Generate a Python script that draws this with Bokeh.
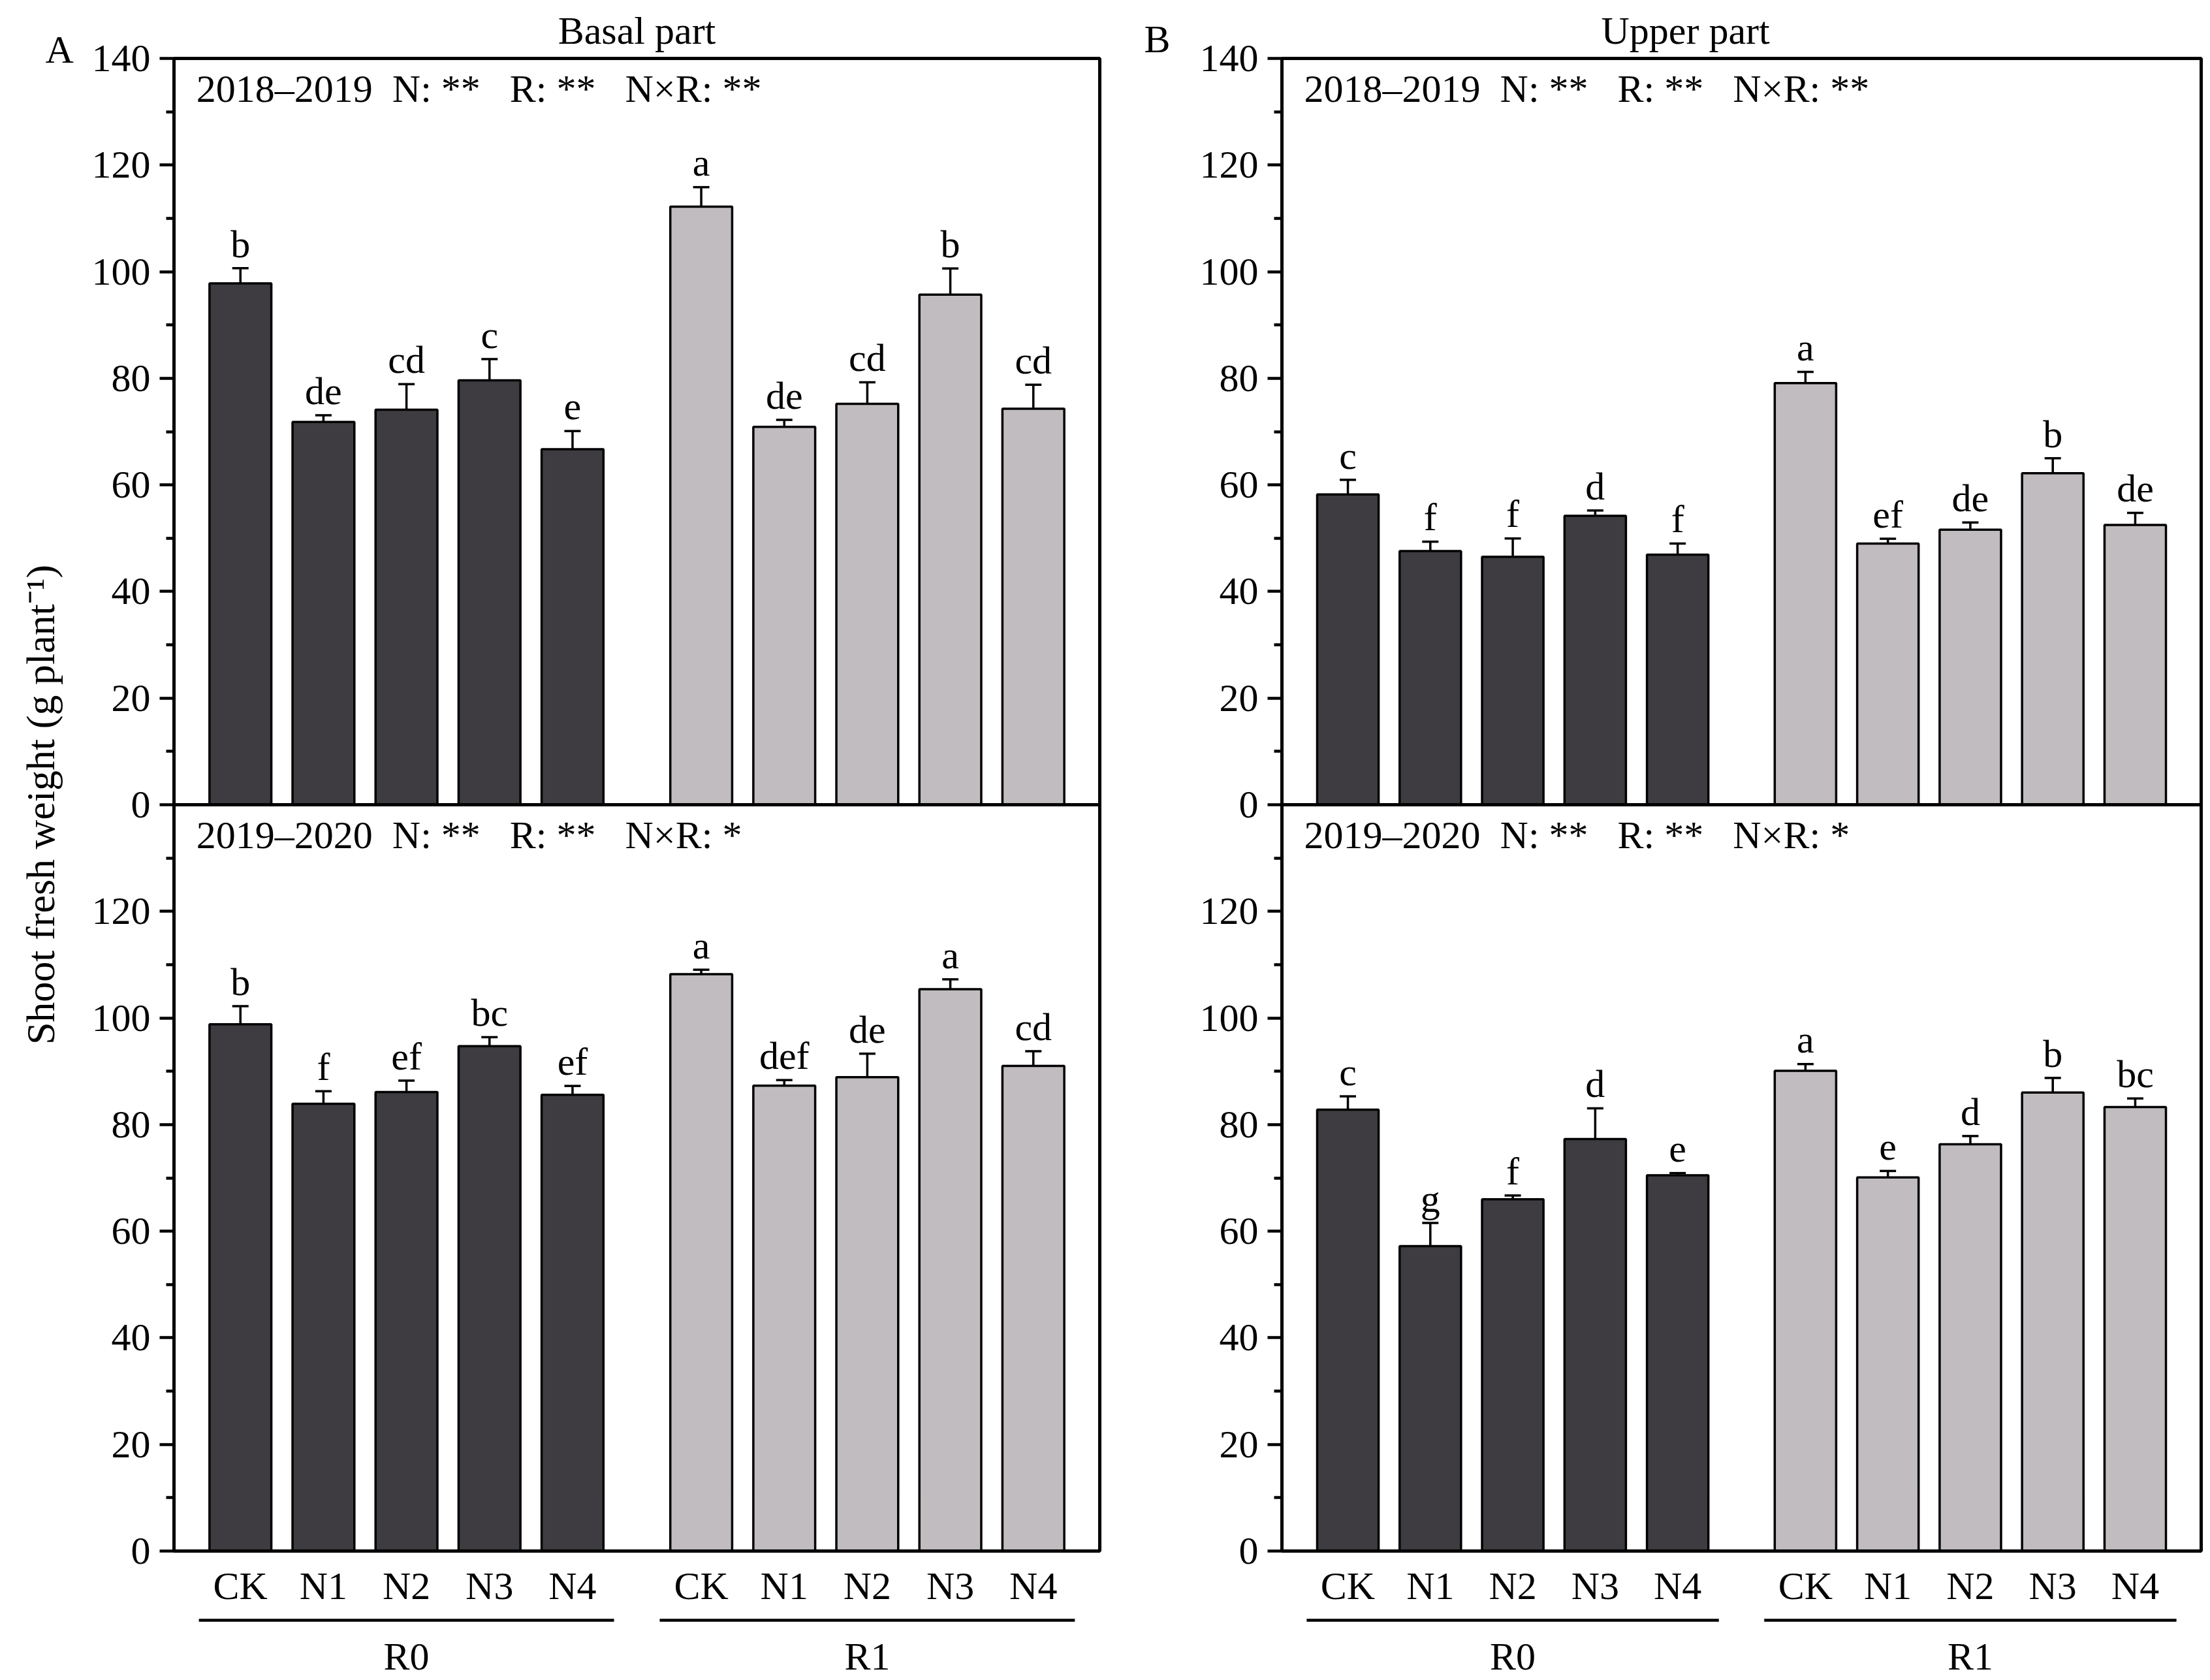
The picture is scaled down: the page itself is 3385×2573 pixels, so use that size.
import math
from bokeh.plotting import figure
from bokeh.models import (FactorRange, Range1d, FixedTicker, Whisker, TeeHead,
                          ColumnDataSource, Span, Title)
from bokeh.layouts import row, column
from bokeh.embed import file_html
from bokeh.resources import INLINE
from bokeh.core.properties import value

# ---------------- data ----------------
treatments = ["CK", "N1", "N2", "N3", "N4"]
residues = ["R0", "R1"]
y_ticks = [0, 20, 40, 60, 80, 100, 120, 140]

basal_1819 = [97.8, 71.8, 74.1, 79.6, 66.7, 112.2, 70.9, 75.2, 95.7, 74.3]
basal_1819_err = [2.85, 1.25, 4.8, 4.0, 3.4, 3.65, 1.3, 4.05, 4.9, 4.5]
basal_1819_let = ["b", "de", "cd", "c", "e", "a", "de", "cd", "b", "cd"]

basal_1920 = [98.8, 83.9, 86.1, 94.7, 85.6, 108.2, 87.3, 88.9, 105.4, 91.0]
basal_1920_err = [3.4, 2.35, 2.15, 1.7, 1.65, 0.85, 1.05, 4.4, 1.85, 2.75]
basal_1920_let = ["b", "f", "ef", "bc", "ef", "a", "def", "de", "a", "cd"]

upper_1819 = [58.2, 47.6, 46.5, 54.2, 46.9, 79.1, 49.0, 51.6, 62.2, 52.5]
upper_1819_err = [2.75, 1.75, 3.45, 1.0, 2.1, 2.1, 0.9, 1.35, 2.8, 2.25]
upper_1819_let = ["c", "f", "f", "d", "f", "a", "ef", "de", "b", "de"]

upper_1920 = [82.8, 57.2, 66.0, 77.3, 70.5, 90.1, 70.1, 76.3, 86.0, 83.3]
upper_1920_err = [2.5, 4.35, 0.7, 5.75, 0.4, 1.25, 1.2, 1.55, 2.75, 1.6]
upper_1920_let = ["c", "g", "f", "d", "e", "a", "e", "d", "b", "bc"]

stats_1819 = "2018\u20132019\u00a0\u00a0N:\u00a0**\u00a0\u00a0\u00a0R:\u00a0**\u00a0\u00a0\u00a0N\u00d7R:\u00a0**"
stats_1920 = "2019\u20132020\u00a0\u00a0N:\u00a0**\u00a0\u00a0\u00a0R:\u00a0**\u00a0\u00a0\u00a0N\u00d7R:\u00a0*"
y_title = "Shoot fresh weight (g plant\u207b\u00b9)"

# ---------------- style ----------------
FONT = "Liberation Serif"
FSPX = 60
FS = f"{FSPX}px"
DARK = "#3e3c40"
LIGHT = "#c1bcc0"
LW = 5
MID = 0.3375          # em distance from baseline to the middle of the text box

factors = [(r, t) for r in residues for t in treatments]
colors = [DARK] * 5 + [LIGHT] * 5

# page geometry (pixels)
PAGE_H = 2573
FRAME_TOP, FRAME_BOT = 89, 2375
FRAME_H = FRAME_BOT - FRAME_TOP
PPU = (FRAME_H / 2) / 140            # pixels per data unit in each sub-panel
TOP_BORDER = FRAME_TOP
BOTTOM_BORDER = 100
FIG_H = TOP_BORDER + FRAME_H + BOTTOM_BORDER
STRIP_H = PAGE_H - FIG_H
GROUP_PAD = 0.55
RANGE_PAD = 0.3


def style_blank(f):
    f.outline_line_color = None
    f.xgrid.visible = False
    f.ygrid.visible = False
    f.background_fill_color = "white"
    f.border_fill_color = "white"


def px_figure(x0, x1, y0, y1):
    f = figure(width=x1 - x0, height=y1 - y0, x_range=Range1d(x0, x1),
               y_range=Range1d(y1, y0), output_backend="svg",
               toolbar_location=None, min_border=0,
               x_axis_location=None, y_axis_location=None)
    style_blank(f)
    return f


def put_text(f, x, y_base, txt, angle=0, align="left", size=FSPX):
    """y_base = wanted baseline (page px); for rotated text x is the baseline."""
    if angle:
        x, y = x - MID * size, y_base
    else:
        x, y = x, y_base - MID * size
    f.text(x=[x], y=[y], text=[txt], angle=angle, text_font=value(FONT),
           text_font_size=f"{size}px", text_align=align,
           text_baseline="middle", text_color="black")


def make_column(x0_page, frame_left, frame_w, right_border, title, title_align, title_offset,
                top_vals, top_err, top_let, bot_vals, bot_err, bot_let):
    left_border = frame_left - x0_page
    width = left_border + frame_w + right_border
    xr = FactorRange(*factors, group_padding=GROUP_PAD, range_padding=RANGE_PAD,
                     range_padding_units="absolute")

    p = figure(width=width, height=FIG_H, x_range=xr, y_range=Range1d(0, 280),
               output_backend="svg", toolbar_location=None,
               min_border_left=left_border, min_border_right=right_border,
               min_border_top=TOP_BORDER, min_border_bottom=BOTTOM_BORDER)
    p.extra_y_ranges = {"top": Range1d(-140, 140), "bot": Range1d(0, 280)}
    p.xgrid.visible = False
    p.ygrid.visible = False
    p.outline_line_color = "black"
    p.outline_line_width = LW
    p.background_fill_color = "white"
    p.border_fill_color = "white"

    p.add_layout(Title(text=title, align=title_align, offset=title_offset,
                       vertical_align="middle", standoff=18,
                       text_font=FONT, text_font_size=FS, text_font_style="normal",
                       text_color="black"), "above")

    # y axis: two stacked sub-panels share one axis line
    major = [t for t in y_ticks[:-1]] + [140 + t for t in y_ticks]
    minor = [t + 10 for t in y_ticks[:-1]] + [150 + t for t in y_ticks[:-1]]
    yax = p.yaxis[0]
    yax.ticker = FixedTicker(ticks=major, minor_ticks=minor)
    overrides = {t: str(t) for t in y_ticks[:-1]}
    overrides.update({140 + t: str(t) for t in y_ticks})
    yax.major_label_overrides = overrides
    yax.axis_line_width = LW
    yax.major_tick_line_width = 4.5
    yax.minor_tick_line_width = 4.5
    yax.major_tick_out = 22
    yax.major_tick_in = 0
    yax.minor_tick_out = 12
    yax.minor_tick_in = 0
    yax.major_label_standoff = 14
    yax.major_label_text_font = FONT
    yax.major_label_text_font_size = FS
    yax.major_label_text_color = "black"

    xax = p.xaxis[0]
    xax.axis_line_width = LW
    xax.major_tick_line_color = None
    xax.minor_tick_line_color = None
    xax.major_label_standoff = 14
    xax.major_label_text_font = FONT
    xax.major_label_text_font_size = FS
    xax.major_label_text_color = "black"
    xax.group_text_font_size = "1px"
    xax.group_text_color = None
    xax.separator_line_color = None

    p.add_layout(Span(location=140, dimension="width", line_color="black", line_width=LW))

    letter_gap = (17 + MID * FSPX) / PPU
    for rng, vals, err, let, stats in (("top", top_vals, top_err, top_let, stats_1819),
                                      ("bot", bot_vals, bot_err, bot_let, stats_1920)):
        src = ColumnDataSource(dict(
            x=factors, top=vals, color=colors, let=let,
            upper=[v + e for v, e in zip(vals, err)],
            lower=[v - e for v, e in zip(vals, err)],
            ly=[v + e + letter_gap for v, e in zip(vals, err)]))
        p.vbar(x="x", top="top", bottom=0, width=0.745, source=src,
               fill_color="color", line_color="black", line_width=3.5,
               y_range_name=rng)
        p.add_layout(Whisker(source=src, base="x", upper="upper", lower="lower",
                             y_range_name=rng, line_color="black", line_width=3.5,
                             upper_head=TeeHead(size=25, line_width=3.5, line_color="black"),
                             lower_head=TeeHead(size=25, line_width=3.5, line_color="black")))
        p.text(x="x", y="ly", text="let", source=src, y_range_name=rng,
               text_font=value(FONT), text_font_size=FS, text_align="center",
               text_baseline="middle", text_color="black")
        # panel statistics at the top-left corner of each sub-panel
        p.text(x=[(residues[0], treatments[0], -0.53)],
               y=[140 - (67 - MID * FSPX) / PPU],
               text=[stats], y_range_name=rng, text_font=value(FONT),
               text_font_size=FS, text_align="left", text_baseline="middle",
               text_color="black")

    # strip under the x axis with group lines and residue labels
    s = figure(width=width, height=STRIP_H, x_range=xr,
               y_range=Range1d(PAGE_H, FIG_H),
               output_backend="svg", toolbar_location=None,
               min_border_left=left_border, min_border_right=right_border,
               min_border_top=0, min_border_bottom=0,
               x_axis_location=None, y_axis_location=None)
    style_blank(s)
    gsrc = ColumnDataSource(dict(
        x0=[(r, treatments[0], -0.5) for r in residues],
        x1=[(r, treatments[-1], 0.5) for r in residues],
        xm=[(r, treatments[2]) for r in residues],
        y=[2481] * 2, ty=[2557 - MID * FSPX] * 2, txt=residues))
    s.segment(x0="x0", y0="y", x1="x1", y1="y", source=gsrc,
              line_color="black", line_width=4.5)
    s.text(x="xm", y="ty", text="txt", source=gsrc, text_font=value(FONT),
           text_font_size=FS, text_align="center", text_baseline="middle",
           text_color="black")
    return column(p, s)


left = px_figure(0, 130, 0, PAGE_H)
put_text(left, 69, 96, "A")
put_text(left, 82, 1232, y_title, angle=math.pi / 2, align="center", size=62)

colA = make_column(130, 266, 1418, 16, "Basal part", "center", 0,
                   basal_1819, basal_1819_err, basal_1819_let,
                   basal_1920, basal_1920_err, basal_1920_let)

mid = px_figure(1700, 1830, 0, PAGE_H)
put_text(mid, 1752, 80, "B")

colB = make_column(1830, 1963, 1408, 3, "Upper part", "left", 489,
                   upper_1819, upper_1819_err, upper_1819_let,
                   upper_1920, upper_1920_err, upper_1920_let)

layout = row(left, colA, mid, colB)
open("out.html", "w").write(file_html(layout, INLINE))
